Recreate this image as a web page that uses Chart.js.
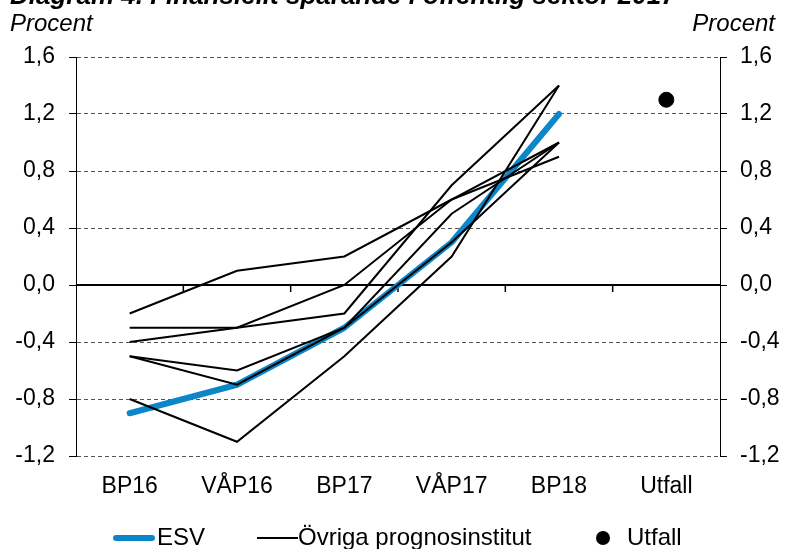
<!DOCTYPE html>
<html>
<head>
<meta charset="utf-8">
<script src="https://cdn.jsdelivr.net/npm/chart.js@4/dist/chart.umd.min.js"></script>
<style>
  body { margin: 0; background: #fff; }
  #wrap { position: relative; width: 786px; height: 549px; overflow: hidden; font-family: 'Liberation Sans', Arial, sans-serif; color: #000; }
  #wrap canvas { position: absolute; left: 0; top: 0; }
  .txt { position: absolute; white-space: nowrap; line-height: 27px; }
  .title { font-weight: bold; font-style: italic; font-size: 26px; left: 10px; top: -18px; }
  .unit { font-style: italic; font-size: 24px; top: 9px; }
  .leg { font-size: 24px; top: 523px; }
  .sw { position: absolute; }
</style>
</head>
<body>
<div id="wrap">
  <canvas id="chart" width="786" height="549"></canvas>
  <div class="txt title">Diagram 4. Finansiellt sparande i offentlig sektor 2017</div>
  <div class="txt unit" style="left:10px">Procent</div>
  <div class="txt unit" style="right:11px">Procent</div>
  <div class="sw" style="left:113px; top:535px; width:42px; height:6px; border-radius:3px; background:#0a86c9"></div>
  <div class="txt leg" style="left:157px">ESV</div>
  <div class="sw" style="left:257px; top:537px; width:41px; height:2px; background:#000"></div>
  <div class="txt leg" style="left:298px">Övriga prognosinstitut</div>
  <div class="sw" style="left:596px; top:531px; width:14px; height:14px; border-radius:7px; background:#000"></div>
  <div class="txt leg" style="left:627px">Utfall</div>
</div>
<script>
document.addEventListener("DOMContentLoaded", function () {
    var categories = ['BP16', 'VÅP16', 'BP17', 'VÅP17', 'BP18', 'Utfall'];

    // ESV prognoser
    var esv = [-0.9, -0.7, -0.3, 0.3, 1.2, null];

    // Övriga prognosinstitut
    var inst1 = [-0.2, 0.1, 0.2, 0.6, 0.9, null];
    var inst2 = [-0.3, -0.3, 0.0, 0.6, 1.0, null];
    var inst3 = [-0.4, -0.3, -0.2, 0.7, 1.4, null];
    var inst4 = [-0.5, -0.6, -0.3, 0.5, 1.0, null];
    var inst5 = [-0.5, -0.7, -0.3, 0.3, 1.0, null];
    var inst6 = [-0.8, -1.1, -0.5, 0.2, 1.4, null];

    // Utfall
    var utfall = [null, null, null, null, null, 1.3];

    var fmt = function (v) {
        if (Math.abs(v) < 1e-9) v = 0;
        return v.toFixed(1).replace('.', ',');
    };

    // nollinje med kategorimarkeringar
    var zeroLine = {
        id: 'zeroLine',
        beforeDatasetsDraw: function (chart) {
            var ctx = chart.ctx, area = chart.chartArea;
            var x = chart.scales.x, y = chart.scales.y;
            var y0 = y.getPixelForValue(0);
            ctx.save();
            ctx.strokeStyle = '#000';
            ctx.lineWidth = 2;
            ctx.beginPath();
            ctx.moveTo(area.left, y0);
            ctx.lineTo(area.right, y0);
            ctx.stroke();
            ctx.lineWidth = 1.5;
            for (var i = 0; i < categories.length - 1; i++) {
                var xb = (x.getPixelForValue(i) + x.getPixelForValue(i + 1)) / 2;
                ctx.beginPath();
                ctx.moveTo(xb, y0);
                ctx.lineTo(xb, y0 + 7);
                ctx.stroke();
            }
            ctx.restore();
        }
    };

    var black = function (data) {
        return {
            label: 'Övriga prognosinstitut',
            data: data,
            borderColor: '#000',
            borderWidth: 2,
            pointRadius: 0,
            fill: false
        };
    };

    Chart.defaults.font.family = "'Liberation Sans', Arial, sans-serif";
    Chart.defaults.color = '#000';

    var ctx = document.getElementById('chart').getContext('2d');
    new Chart(ctx, {
        type: 'line',
        data: {
            labels: categories,
            datasets: [
                black(inst1), black(inst2), black(inst3),
                black(inst4), black(inst5), black(inst6),
                {
                    label: 'Utfall',
                    data: utfall,
                    showLine: false,
                    pointRadius: 7.5,
                    pointBackgroundColor: '#000',
                    pointBorderColor: '#000',
                    borderColor: '#000'
                },
                {
                    label: 'ESV',
                    data: esv,
                    borderColor: '#0a86c9',
                    borderWidth: 6,
                    borderCapStyle: 'round',
                    borderJoinStyle: 'round',
                    pointRadius: 0,
                    fill: false
                }
            ]
        },
        options: {
            responsive: false,
            animation: false,
            layout: { padding: { top: 57, left: 0, right: 0, bottom: 0 } },
            plugins: {
                legend: { display: false },
                tooltip: { enabled: false }
            },
            scales: {
                x: {
                    offset: true,
                    grid: { display: false, drawTicks: false },
                    border: { display: false },
                    ticks: { font: { size: 23 }, padding: 17, maxRotation: 0 },
                    afterFit: function (s) { s.height = 93; }
                },
                y: {
                    position: 'left',
                    min: -1.2,
                    max: 1.6,
                    ticks: { stepSize: 0.4, font: { size: 23 }, padding: 14, callback: fmt },
                    grid: {
                        color: function (c) {
                            return c.tick && Math.abs(c.tick.value) < 1e-9 ? 'rgba(0,0,0,0)' : '#555';
                        },
                        tickColor: '#000',
                        tickLength: 7,
                        lineWidth: 1
                    },
                    border: { color: '#000', width: 1, dash: [4, 3] },
                    afterFit: function (s) { s.width = 76; }
                },
                y2: {
                    position: 'right',
                    min: -1.2,
                    max: 1.6,
                    ticks: { stepSize: 0.4, font: { size: 23 }, padding: 13, callback: fmt },
                    grid: { drawOnChartArea: false, tickColor: '#000', tickLength: 7 },
                    border: { color: '#000', width: 1 },
                    afterFit: function (s) { s.width = 66; }
                }
            }
        },
        plugins: [zeroLine]
    });
});
</script>
</body>
</html>
